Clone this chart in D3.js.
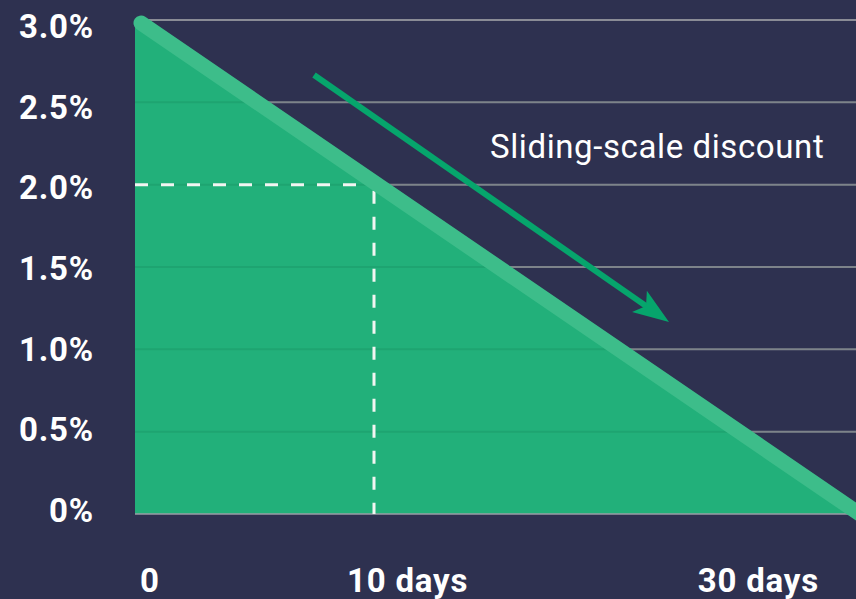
<!DOCTYPE html>
<html>
<head>
<meta charset="utf-8">
<script src="https://cdn.jsdelivr.net/npm/d3@7"></script>
<style>
  html, body { margin: 0; padding: 0; background: #2e3150; }
  svg { display: block; font-family: Roboto, "Noto Sans", sans-serif; }
</style>
</head>
<body>
<script>
// Chart data
var discountDays = [0, 30];        // days after invoice
var discountRates = [3.0, 0];      // discount in percent
var yTicks = [0, 0.5, 1.0, 1.5, 2.0, 2.5, 3.0];
var yTickLabels = ['0%', '0.5%', '1.0%', '1.5%', '2.0%', '2.5%', '3.0%'];
var xTicks = [0, 10, 30];
var xTickLabels = ['0', '10 days', '30 days'];
var markerDay = 10;
var markerRate = 2.0;
var arrowLabel = 'Sliding-scale discount';

var width = 856, height = 599;

var svg = d3.select('body').append('svg')
    .attr('width', width)
    .attr('height', height);

svg.append('rect')
    .attr('width', width)
    .attr('height', height)
    .attr('fill', '#2e3150');

var x = d3.scaleLinear().domain([0, 30]).range([135, 858]);
var y = d3.scaleLinear().domain([0, 3]).range([514, 20]);
// tick labels sit on a slightly tighter spacing than the grid
var yLabel = d3.scaleLinear().domain([0, 3]).range([522, 38]);

var points = discountDays.map(function (d, i) { return [d, discountRates[i]]; });

// grid lines
svg.append('g')
    .selectAll('line')
    .data(yTicks.slice(1))
    .enter().append('line')
    .attr('x1', x(0))
    .attr('x2', width)
    .attr('y1', function (d) { return y(d); })
    .attr('y2', function (d) { return y(d); })
    .attr('stroke', '#8a8c96')
    .attr('stroke-width', 2);

// area under the discount line
var area = d3.area()
    .x(function (d) { return x(d[0]); })
    .y0(y(0))
    .y1(function (d) { return y(d[1]); });

svg.append('path')
    .datum(points)
    .attr('d', area)
    .attr('fill', '#22b07a');

// grid lines showing through the area
svg.append('g')
    .selectAll('line')
    .data(yTicks.slice(1, -1))
    .enter().append('line')
    .attr('x1', x(0))
    .attr('x2', width)
    .attr('y1', function (d) { return y(d); })
    .attr('y2', function (d) { return y(d); })
    .attr('stroke', 'rgba(0,40,20,0.09)')
    .attr('stroke-width', 2);

// baseline
svg.append('line')
    .attr('x1', x(0))
    .attr('x2', width)
    .attr('y1', y(0))
    .attr('y2', y(0))
    .attr('stroke', '#9a9ca6')
    .attr('stroke-width', 1.5);

// dashed marker lines
svg.append('line')
    .attr('x1', x(0))
    .attr('x2', x(markerDay))
    .attr('y1', y(markerRate))
    .attr('y2', y(markerRate))
    .attr('stroke', '#f2f5f2')
    .attr('stroke-width', 3)
    .attr('stroke-dasharray', '13,13');

svg.append('line')
    .attr('x1', x(markerDay) - 2)
    .attr('x2', x(markerDay) - 2)
    .attr('y1', y(markerRate) + 6)
    .attr('y2', y(0))
    .attr('stroke', '#f2f5f2')
    .attr('stroke-width', 3)
    .attr('stroke-dasharray', '13,13');

// the discount line itself
var line = d3.line()
    .x(function (d) { return x(d[0]); })
    .y(function (d) { return y(d[1]); });

svg.append('path')
    .datum(points)
    .attr('d', line)
    .attr('transform', 'translate(6,3)')
    .attr('fill', 'none')
    .attr('stroke', '#3dbd8a')
    .attr('stroke-width', 15)
    .attr('stroke-linecap', 'round');

// direction arrow
var arrowColor = '#06a56c';
var ax1 = 314, ay1 = 75, ax2 = 669, ay2 = 322;
var ang = Math.atan2(ay2 - ay1, ax2 - ax1);
var headLen = 36, headHalf = 13, notch = 8;

svg.append('line')
    .attr('x1', ax1).attr('y1', ay1)
    .attr('x2', ax2 - Math.cos(ang) * (headLen - notch - 2))
    .attr('y2', ay2 - Math.sin(ang) * (headLen - notch - 2))
    .attr('stroke', arrowColor)
    .attr('stroke-width', 6);

svg.append('path')
    .attr('d', 'M0,0 L' + (-headLen) + ',' + (-headHalf) + ' L' + (-headLen + notch) + ',0 L' + (-headLen) + ',' + headHalf + ' Z')
    .attr('transform', 'translate(' + ax2 + ',' + ay2 + ') rotate(' + (ang * 180 / Math.PI) + ')')
    .attr('fill', arrowColor);

svg.append('text')
    .attr('x', 490)
    .attr('y', 158)
    .attr('fill', '#ffffff')
    .attr('font-size', 33)
    .attr('letter-spacing', 0.6)
    .text(arrowLabel);

// y tick labels
svg.append('g')
    .selectAll('text')
    .data(yTicks)
    .enter().append('text')
    .attr('x', 94)
    .attr('y', function (d) { return yLabel(d); })
    .attr('text-anchor', 'end')
    .attr('fill', '#ffffff')
    .attr('font-size', 33)
    .attr('font-weight', 'bold')
    .attr('letter-spacing', 0.8)
    .text(function (d, i) { return yTickLabels[i]; });

// x tick labels
var xAnchor = ['start', 'start', 'end'];
var xShift = [5, -29, -39];
svg.append('g')
    .selectAll('text')
    .data(xTicks)
    .enter().append('text')
    .attr('x', function (d, i) { return x(d) + xShift[i]; })
    .attr('y', 592)
    .attr('text-anchor', function (d, i) { return xAnchor[i]; })
    .attr('fill', '#ffffff')
    .attr('font-size', 33)
    .attr('font-weight', 'bold')
    .attr('letter-spacing', 0.8)
    .text(function (d, i) { return xTickLabels[i]; });
</script>
</body>
</html>
